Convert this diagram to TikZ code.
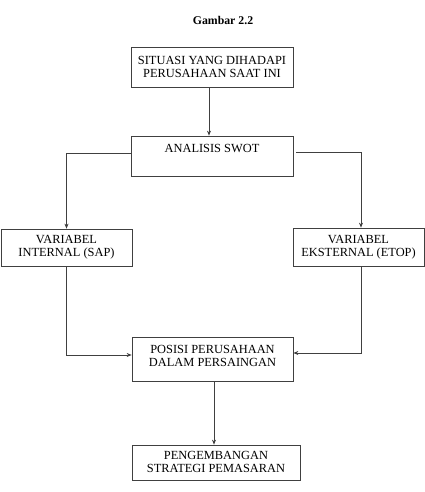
\documentclass[tikz,border=0pt]{standalone}
\usepackage{fontspec}
\setmainfont{Liberation Serif}
\usetikzlibrary{arrows.meta}
\begin{document}
\begin{tikzpicture}[x=1pt,y=-1pt,
  box/.style={draw=black!75, line width=0.7pt, rectangle, inner sep=0pt, align=center,
    font=\fontsize{12.4}{13}\selectfont},
  lbl/.style={inner sep=0pt, align=center, font=\fontsize{12.4}{13}\selectfont},
  arr/.style={draw=black!75, line width=0.7pt, -{Stealth[length=5pt,width=4pt]}},
  ln/.style={draw=black!75, line width=0.7pt}]
\useasboundingbox (0,0) rectangle (425,492);
\node[font=\fontsize{11.8}{13}\selectfont\bfseries] (title) at (223,20) {Gambar 2.2};
\node[box, minimum width=162pt, minimum height=40pt] (b1) at (212,67) {SITUASI YANG DIHADAPI\\PERUSAHAAN SAAT INI};
\node[box, minimum width=162pt, minimum height=40pt] (b2) at (212,156) {};
\node[lbl] (t2) at (212,148) {ANALISIS SWOT};
\node[box, minimum width=131pt, minimum height=37pt] (b3) at (66.5,247.5) {VARIABEL\\INTERNAL (SAP)};
\node[box, minimum width=131pt, minimum height=38pt] (b4) at (358.5,247) {VARIABEL\\EKSTERNAL (ETOP)};
\node[box, minimum width=161pt, minimum height=44pt] (b5) at (212.5,359) {};
\node[lbl] (t5) at (212.5,355.5) {POSISI PERUSAHAAN\\DALAM PERSAINGAN};
\node[box, minimum width=168pt, minimum height=35pt] (b6) at (216,462.5) {};
\node[lbl] (t6) at (216,461.5) {PENGEMBANGAN\\STRATEGI PEMASARAN};
\draw[arr] ([xshift=-3pt]b1.south) -- ([xshift=-3pt]b1.south |- b2.north);
\draw[arr] ([yshift=3pt]b2.west) -| (b3.north);
\draw[arr] ([xshift=3pt,yshift=4pt]b2.east) -| ([xshift=2.5pt]b4.north);
\draw[arr] (b3.south) |- ([yshift=4pt]b5.west);
\draw[arr] ([xshift=2.5pt]b4.south) |- ([yshift=6pt]b5.east);
\draw[arr] ([xshift=1.5pt]b5.south) -- ([xshift=1.5pt]b5.south |- b6.north);
\end{tikzpicture}
\end{document}
